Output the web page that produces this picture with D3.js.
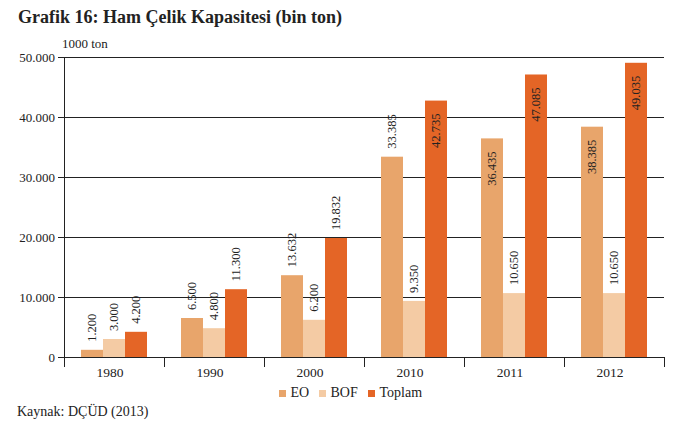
<!DOCTYPE html>
<html><head><meta charset="utf-8">
<script src="https://cdn.jsdelivr.net/npm/d3@7"></script>
<style>body{margin:0;background:#fff;} svg{display:block;font-family:"Liberation Serif","Times New Roman",serif;}</style>
</head><body>
<svg id="c" width="674" height="421"></svg>
<script>
const categories = ["1980","1990","2000","2010","2011","2012"];
const seriesNames = ["EO","BOF","Toplam"];
const eo = [1200, 6500, 13632, 33385, 36435, 38385];
const bof = [3000, 4800, 6200, 9350, 10650, 10650];
const toplam = [4200, 11300, 19832, 42735, 47085, 49035];
const yTicks = [0, 10000, 20000, 30000, 40000, 50000];
const colors = ["#E8A56B", "#F4CBA4", "#E46526"];

(function () {
const values = [eo, bof, toplam];
const svg = d3.select("#c");
const fmt = v => d3.format(",")(v).replace(/,/g, ".");

const pL = 64, pR = 664, pT = 57, pB = 357;
const x = d3.scaleBand().domain(categories).range([pL, pR]);
const y = d3.scaleLinear().domain([0, 50000]).range([pB, pT]);
const xs = d3.scaleBand().domain(seriesNames).range([17, 83]);

svg.append("text").attr("x", 18).attr("y", 23).attr("font-size", 18).attr("font-weight", "bold")
  .attr("fill", "#222").text("Grafik 16: Ham Çelik Kapasitesi (bin ton)");
svg.append("text").attr("x", 62).attr("y", 48).attr("font-size", 13).attr("fill", "#222").text("1000 ton");

// gridlines
svg.append("g").selectAll("line").data(yTicks).join("line")
  .attr("x1", pL).attr("x2", pR).attr("y1", d => y(d)).attr("y2", d => y(d))
  .attr("stroke", "#222").attr("stroke-width", 1).attr("shape-rendering", "crispEdges");

// y axis
const ya = svg.append("g").attr("transform", `translate(${pL},0)`)
  .call(d3.axisLeft(y).tickValues(yTicks).tickFormat(fmt).tickSize(6).tickPadding(3));
ya.select(".domain").remove();
ya.selectAll("line").attr("stroke", "#222");
ya.selectAll("text").attr("font-size", 13).attr("fill", "#222").attr("font-family", "Liberation Serif");
svg.append("line").attr("x1", pL).attr("x2", pL).attr("y1", pT).attr("y2", pB + 10)
  .attr("stroke", "#222").attr("shape-rendering", "crispEdges");

// x axis ticks at boundaries
const bounds = categories.map(c => x(c)).concat([pR]);
svg.append("g").selectAll("line").data(bounds.slice(1)).join("line")
  .attr("x1", d => d).attr("x2", d => d).attr("y1", pB).attr("y2", pB + 10)
  .attr("stroke", "#222").attr("shape-rendering", "crispEdges");
svg.append("g").selectAll("text").data(categories).join("text")
  .attr("x", d => x(d) + x.bandwidth() / 2 - 4).attr("y", 377).attr("text-anchor", "middle")
  .attr("font-size", 13.5).attr("fill", "#222").text(d => d);

// bars
seriesNames.forEach((s, si) => {
  const g = svg.append("g");
  g.selectAll("rect").data(categories).join("rect")
    .attr("x", (c) => x(c) + xs(s)).attr("width", xs.bandwidth())
    .attr("y", (c, i) => y(values[si][i])).attr("height", (c, i) => pB - y(values[si][i]))
    .attr("fill", colors[si]);
  g.selectAll("text").data(categories).join("text")
    .attr("transform", (c, i) => {
      const v = values[si][i];
      const inside = v > 35000;
      const ty = inside ? y(v) + 13 : y(v) - 8;
      return `translate(${x(c) + xs(s) + xs.bandwidth() / 2},${ty}) rotate(-90)`;
    })
    .attr("text-anchor", (c, i) => values[si][i] > 35000 ? "end" : "start")
    .attr("dy", "0.35em").attr("font-size", 12.5).attr("fill", "#222")
    .text((c, i) => fmt(values[si][i]));
});

// legend
const legX = [279, 319, 368];
const lg = svg.append("g");
seriesNames.forEach((s, i) => {
  lg.append("rect").attr("x", legX[i]).attr("y", 390).attr("width", 7).attr("height", 7).attr("fill", colors[i]);
  lg.append("text").attr("x", legX[i] + 11.5).attr("y", 397).attr("font-size", 14).attr("fill", "#222").text(s);
});

svg.append("text").attr("x", 17).attr("y", 416).attr("font-size", 14).attr("fill", "#222").text("Kaynak: DÇÜD (2013)");
})();
</script>
</body></html>
